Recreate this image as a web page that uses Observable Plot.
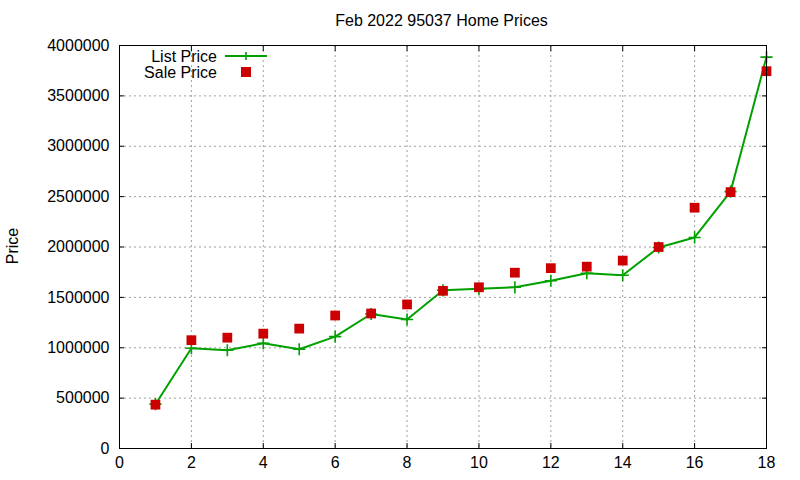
<!DOCTYPE html>
<html>
<head>
<meta charset="utf-8">
<script src="https://cdn.jsdelivr.net/npm/d3@7"></script>
<script src="https://cdn.jsdelivr.net/npm/@observablehq/plot@0.6"></script>
<style>
  html, body { margin: 0; padding: 0; background: #fff; }
  svg { font-family: "Liberation Sans", Arial, sans-serif; }
</style>
</head>
<body>
<div id="chart"></div>
<script>
const title = "Feb 2022 95037 Home Prices";
const yLabel = "Price";
const homes = [1, 2, 3, 4, 5, 6, 7, 8, 9, 10, 11, 12, 13, 14, 15, 16, 17, 18];
const listPrice = [440000, 995000, 975000, 1045000, 985000, 1110000, 1335000, 1280000, 1570000, 1585000, 1600000, 1665000, 1740000, 1720000, 1995000, 2095000, 2550000, 3885000];
const salePrice = [435000, 1075000, 1100000, 1140000, 1190000, 1320000, 1340000, 1430000, 1565000, 1600000, 1745000, 1790000, 1805000, 1865000, 2000000, 2390000, 2545000, 3745000];
const xTicks = [0, 2, 4, 6, 8, 10, 12, 14, 16, 18];
const yTicks = [0, 500000, 1000000, 1500000, 2000000, 2500000, 3000000, 3500000, 4000000];
const seriesNames = ["List Price", "Sale Price"];

const data = homes.map((h, i) => ({x: h, list: listPrice[i], sale: salePrice[i]}));

const green = "#00a000";
const red = "#cc0000";
const gridStyle = {stroke: "#a0a0a0", strokeOpacity: 1, strokeDasharray: "2,3", strokeWidth: 1};

const chart = Plot.plot({
  width: 800,
  height: 480,
  marginLeft: 119,
  marginRight: 34,
  marginTop: 45,
  marginBottom: 32,
  style: {fontFamily: '"Liberation Sans", Arial, sans-serif', fontSize: "16px", background: "#fff"},
  x: {domain: [0, 18]},
  y: {domain: [0, 4000000]},
  marks: [
    Plot.gridX(xTicks, gridStyle),
    Plot.gridY(yTicks, gridStyle),
    Plot.axisX(xTicks, {anchor: "bottom", tickSize: -5, tickPadding: 13, label: null, fontSize: 16, color: "#000"}),
    Plot.axisX(xTicks, {anchor: "top", tickSize: -5, tickFormat: () => "", label: null}),
    Plot.axisY(yTicks, {anchor: "left", tickSize: -5, tickPadding: 15, tickFormat: d3.format("d"), label: null, fontSize: 16, color: "#000"}),
    Plot.axisY(yTicks, {anchor: "right", tickSize: -5, tickFormat: () => "", label: null}),
    Plot.line(data, {x: "x", y: "list", stroke: green, strokeWidth: 2}),
    Plot.dot(data, {x: "x", y: "list", symbol: "plus", r: 4, stroke: green, strokeWidth: 1.6}),
    Plot.dot(data, {x: "x", y: "sale", symbol: "square", r: 5.5, fill: red, stroke: null}),
    Plot.frame({stroke: "#000", strokeWidth: 1})
  ]
});

document.getElementById("chart").appendChild(chart);

const svg = d3.select(chart);
svg.append("text")
  .attr("x", 441.5).attr("y", 26)
  .attr("text-anchor", "middle")
  .attr("font-size", 16).attr("fill", "#000")
  .text(title);
svg.append("text")
  .attr("transform", "translate(17.5,246) rotate(-90)")
  .attr("text-anchor", "middle")
  .attr("font-size", 16).attr("fill", "#000")
  .text(yLabel);

// legend
const lg = svg.append("g");
lg.append("text").attr("x", 217).attr("y", 61.5).attr("text-anchor", "end")
  .attr("font-size", 16).attr("fill", "#000").text(seriesNames[0]);
lg.append("line").attr("x1", 225).attr("x2", 267).attr("y1", 56).attr("y2", 56)
  .attr("stroke", green).attr("stroke-width", 2);
lg.append("path").attr("d", "M242,56h8M246,52v8")
  .attr("stroke", green).attr("stroke-width", 1.6).attr("fill", "none");
lg.append("text").attr("x", 217).attr("y", 77.5).attr("text-anchor", "end")
  .attr("font-size", 16).attr("fill", "#000").text(seriesNames[1]);
lg.append("rect").attr("x", 241).attr("y", 67).attr("width", 10).attr("height", 10)
  .attr("fill", red);
</script>
</body>
</html>
